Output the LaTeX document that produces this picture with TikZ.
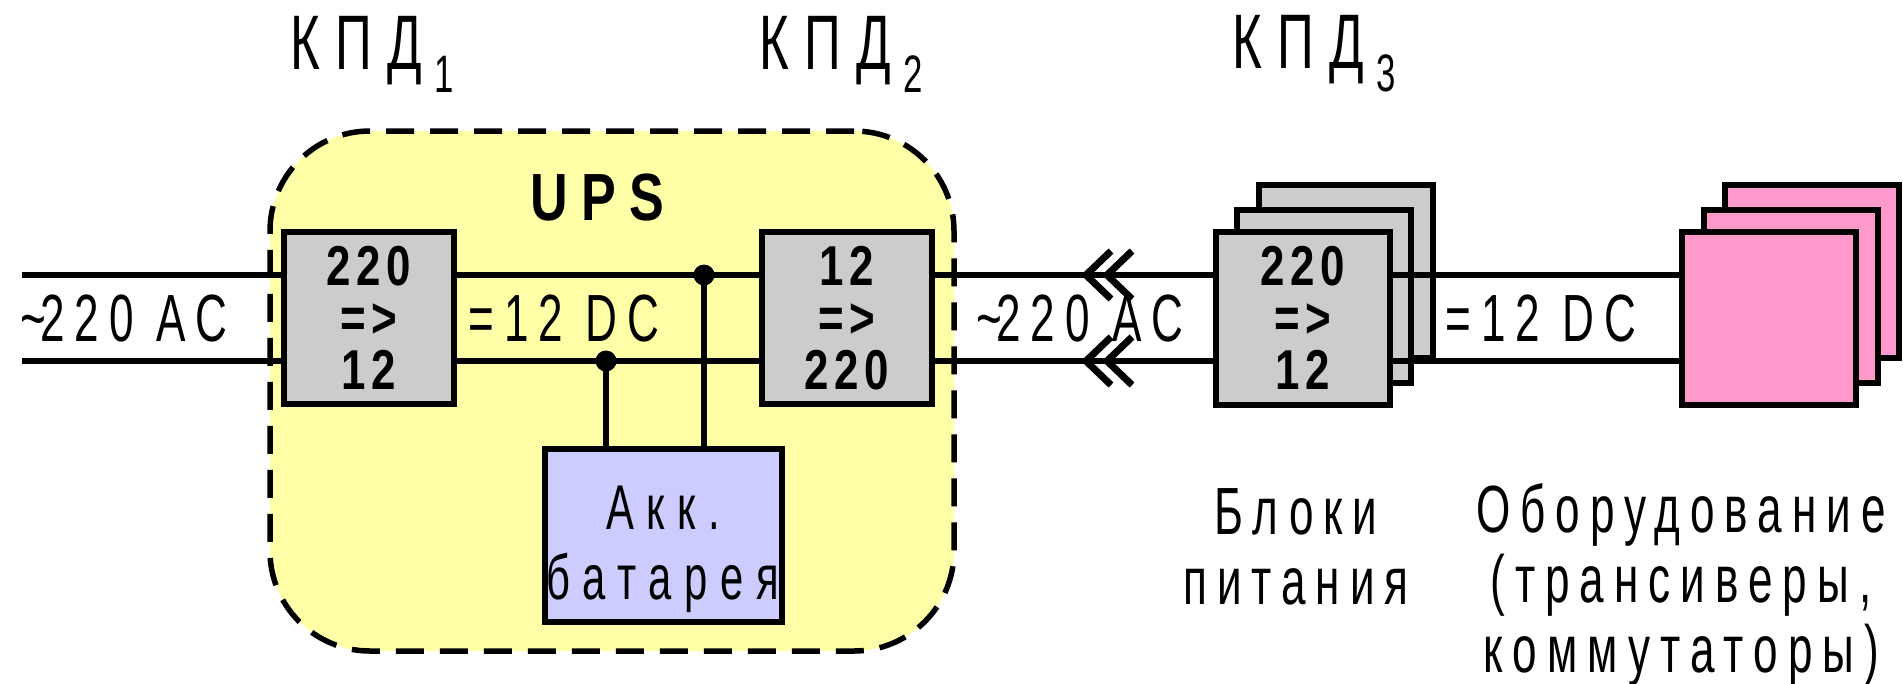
\documentclass[tikz,border=0pt]{standalone}
\usepackage{fontspec}
\setmainfont{Liberation Sans}
\newfontfamily\thinfont[FakeStretch=0.66,LetterSpace=15]{Liberation Sans}
\newfontfamily\widefont[FakeStretch=0.66,LetterSpace=20]{Liberation Sans}
\newfontfamily\boldfont[FakeStretch=0.78,LetterSpace=10]{Liberation Sans Bold}
\newfontfamily\upsfont[FakeStretch=0.78,LetterSpace=20]{Liberation Sans Bold}
\definecolor{upsyellow}{RGB}{255,255,168}
\definecolor{convgray}{RGB}{204,204,204}
\definecolor{battblue}{RGB}{204,204,255}
\definecolor{loadpink}{RGB}{255,153,204}
\usetikzlibrary{calc}
\newcommand{\sublabel}[1]{\hspace{1.2mm}\raisebox{-2.3mm}{\fontsize{15}{15}\selectfont #1}}
\tikzset{
  wire/.style={line width=0.55mm},
  convbox/.style={draw,line width=0.6mm,fill=convgray,minimum width=1.7cm,minimum height=1.72cm,inner sep=0pt,align=center,font=\boldfont\fontsize{16}{14.7}\selectfont},
  stackbox/.style={draw,line width=0.6mm,minimum width=1.74cm,minimum height=1.73cm,inner sep=0pt},
  lbl/.style={inner sep=0pt,align=center,font=\thinfont\fontsize{19}{19.8}\selectfont},
  efflbl/.style={inner sep=0pt,font=\widefont\fontsize{22}{22}\selectfont}
}
\begin{document}
\begin{tikzpicture}
  \useasboundingbox (0,0) rectangle (19.03,6.83);
  \node[draw,dashed,dash pattern=on 2.8mm off 1.6mm,line width=0.55mm,fill=upsyellow,rounded corners=1cm,minimum width=6.84cm,minimum height=5.2cm] (ups) at (6.12,2.92) {};
  \node[inner sep=0pt,font=\upsfont\fontsize{19}{19}\selectfont] (upsname) at (5.97,4.85) {UPS};
  % back of the stacks
  \node[stackbox,fill=convgray] (psuc) at (13.455,4.115) {};
  \node[stackbox,fill=convgray] (psub) at (13.235,3.865) {};
  \node[stackbox,fill=loadpink] (loadc) at (18.12,4.115) {};
  \node[stackbox,fill=loadpink] (loadb) at (17.91,3.865) {};
  % front boxes
  \node[convbox] (convin) at (3.69,3.65) {220\\=>\\12};
  \node[convbox] (convout) at (8.465,3.65) {12\\=>\\220};
  \node[draw,line width=0.6mm,fill=battblue,minimum width=2.37cm,minimum height=1.73cm,inner sep=0pt] (batt) at (6.63,1.48) {};
  \node[inner sep=0pt,align=center,font=\widefont\fontsize{18}{19.8}\selectfont] (battname) at (6.63,1.34) {Акк.\\батарея};
  \coordinate (intop) at (0.22,4.08);
  \coordinate (inbot) at (0.22,3.22);
  \draw[wire] (intop) -- (intop -| convin.west);
  \draw[wire] (inbot) -- (inbot -| convin.west);
  \draw[wire] (intop -| convin.east) -- (intop -| convout.west);
  \draw[wire] (inbot -| convin.east) -- (inbot -| convout.west);
  \node[stackbox,fill=convgray] (psua) at (13.025,3.65) {};
  \node[inner sep=0pt,align=center,font=\boldfont\fontsize{16}{14.7}\selectfont] (psutext) at (13.025,3.65) {220\\=>\\12};
  \node[stackbox,fill=loadpink] (loada) at (17.69,3.65) {};
  \draw[wire] (intop -| convout.east) -- (intop -| psua.west);
  \draw[wire] (inbot -| convout.east) -- (inbot -| psua.west);
  \draw[wire] (intop -| psua.east) -- (intop -| loada.west);
  \draw[wire] (inbot -| psua.east) -- (inbot -| loada.west);
  % taps to the battery
  \coordinate (taptop) at (7.04,4.08);
  \coordinate (tapbot) at (6.06,3.22);
  \draw[wire] (taptop) -- (taptop |- batt.north);
  \draw[wire] (tapbot) -- (tapbot |- batt.north);
  \fill (taptop) circle (0.105);
  \fill (tapbot) circle (0.105);
  % double marks on the outgoing wires
  \foreach \cy in {4.08,3.22}
    \foreach \cx in {10.86,11.07}
      \draw[line width=0.7mm] (\cx+0.25,\cy+0.24) -- (\cx,\cy) -- (\cx+0.25,\cy-0.24);
  % labels
  \node[lbl] (acin) at (1.24,3.65) {\textasciitilde\kern-0.6mm 220 AC};
  \node[lbl] (dcups) at (5.64,3.65) {=12 DC};
  \node[lbl] (acout) at (10.80,3.65) {\textasciitilde\kern-0.6mm 220 AC};
  \node[lbl] (dcout) at (15.41,3.65) {=12 DC};
  \node[efflbl] (effa) at (3.72,6.29) {КПД\sublabel{1}};
  \node[efflbl] (effb) at (8.41,6.29) {КПД\sublabel{2}};
  \node[efflbl] (effc) at (13.14,6.29) {КПД\sublabel{3}};
  \node[lbl] (psuname) at (12.96,1.36) {Блоки\\питания};
  \node[lbl] (loadname) at (16.81,0.98) {Оборудование\\(трансиверы,\\коммутаторы)};
\end{tikzpicture}
\end{document}
